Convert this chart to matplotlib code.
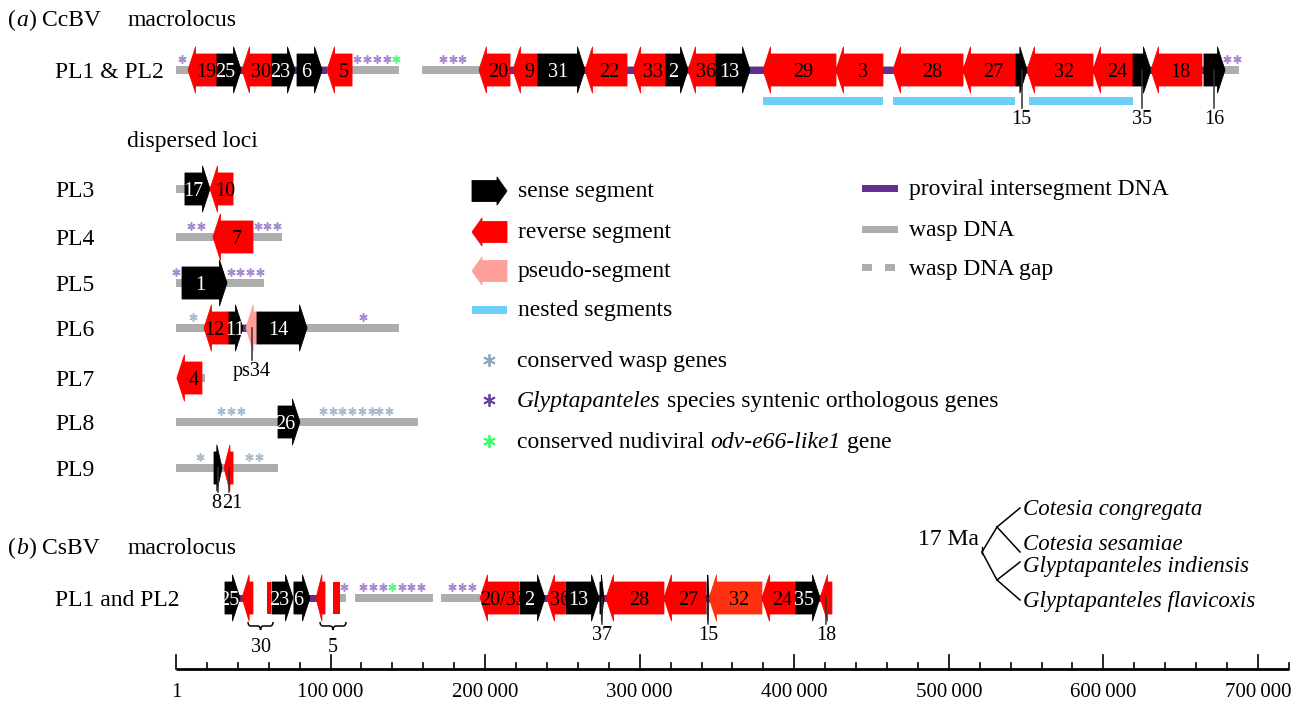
import matplotlib.pyplot as plt
from matplotlib.patches import Polygon, Rectangle, PathPatch
from matplotlib.path import Path

plt.rcParams['font.family'] = ['Liberation Serif', 'DejaVu Serif']

W, H, DPI = 1304, 702, 100
ORIGIN_PX = 176          # pixel column of genome position 1
KB_PER_PX = 0.647        # 100 kb ~ 154.5 px
FS = 17                  # general text
FSG = 14.5               # segment numbers
BL = 0.33 * FS * DPI / 72   # baseline offset to centre capitals
BLG = 0.33 * FSG * DPI / 72

# ---------------- data (positions in kb) ----------------
# (a) CcBV macrolocus PL1 & PL2 : (name, start, end, strand)  strand 1 sense, -1 reverse, 0 pseudo
pl12_genes = [("19", 7.8, 26.5, -1), ("25", 26.5, 42.1, 1), ("30", 42.7, 62.1, -1),
              ("23", 62.1, 77.0, 1), ("6", 78.3, 94.5, 1), ("5", 97.7, 113.9, -1),
              ("20", 196.0, 216.1, -1), ("9", 218.0, 234.2, -1), ("31", 234.2, 264.6, 1),
              ("22", 264.6, 291.8, -1), ("33", 295.7, 317.0, -1), ("2", 317.0, 331.3, 1),
              ("36", 331.3, 349.4, -1), ("13", 349.4, 371.4, 1), ("29", 379.8, 427.0, -1),
              ("3", 427.0, 457.4, -1), ("28", 463.9, 509.2, -1), ("27", 509.2, 543.5, -1),
              ("15", 543.5, 550.6, 1), ("32", 550.6, 593.3, -1), ("24", 593.3, 619.2, -1),
              ("35", 619.2, 630.8, 1), ("18", 630.8, 663.8, -1), ("16", 665.1, 678.7, 1)]
pl12_wasp = [(0, 144.3), (159.2, 687.8)]
pl12_proviral = [(26.0, 98.0), (216.0, 665.0)]
pl12_nested = [(379.8, 457.4), (463.9, 542.8), (551.9, 619.2)]
pl12_outside = ["15", "35", "16"]
pl12_stars_g = [3.9, 117.1, 123.6, 130.0, 136.5, 172.7, 179.2, 185.0, 680.0, 686.5]
pl12_stars_n = [142.3]

# dispersed loci
pl3_genes = [("17", 5.8, 22.0, 1), ("10", 22.0, 36.9, -1)]
pl3_wasp = [(0, 6.0)]
pl4_genes = [("7", 23.9, 49.8, -1)]
pl4_wasp = [(0, 68.6)]
pl4_stars_g = [9.7, 16.2, 53.1, 58.9, 65.3]
pl5_genes = [("1", 3.9, 33.0, 1)]
pl5_wasp = [(0, 57.0)]
pl5_stars_g = [0.0, 35.6, 41.4, 47.9, 54.3]
pl6_genes = [("12", 18.1, 34.3, -1), ("11", 34.3, 43.3, 1), ("ps34", 45.3, 52.4, 0), ("14", 52.4, 84.8, 1)]
pl6_wasp = [(0, 144.3)]
pl6_proviral = [(42.0, 46.0)]
pl6_stars_w = [11.0]
pl6_stars_g = [121.0]
pl7_genes = [("4", 0.6, 16.8, -1)]
pl7_wasp = [(16.8, 18.8)]
pl8_genes = [("26", 66.0, 80.2, 1)]
pl8_wasp = [(0, 156.6)]
pl8_stars_w = [29.1, 35.6, 42.1, 95.1, 101.6, 107.4, 113.9, 120.3, 126.8, 131.3, 137.8]
pl9_genes = [("8", 24.6, 29.8, 1), ("21", 31.1, 36.9, -1)]
pl9_wasp = [(0, 66.0)]
pl9_stars_w = [15.5, 47.2, 53.7]

# (b) CsBV macrolocus PL1 and PL2
cs_genes = [("25", 31.7, 41.4, 1), ("30", 42.7, 49.8, -1), ("23", 62.1, 75.7, 1),
            ("6", 76.3, 86.7, 1), ("5", 90.6, 96.4, -1), ("20/33", 196.7, 221.9, -1),
            ("2", 222.6, 238.7, 1), ("36", 240.0, 251.7, -1), ("13", 252.3, 273.7, 1),
            ("37", 274.3, 276.9, 1), ("28", 278.2, 315.7, -1), ("27", 315.7, 342.9, -1),
            ("15", 343.6, 344.9, 1), ("32", 344.9, 379.1, -1), ("24", 379.1, 401.1, -1),
            ("35", 401.1, 416.7, 1), ("18", 416.7, 424.4, -1)]
cs_fragments = [(58.9, 61.5), (101.6, 106.1)]
cs_braces = [("30", 46.6, 62.8), ("5", 93.2, 110.0)]
cs_wasp = [(106.1, 110.0), (115.8, 166.3), (171.5, 196.7)]
cs_proviral = [(40.0, 44.0), (85.0, 92.0), (221.0, 424.0)]
cs_outside = ["37", "15", "18"]
cs_unlabelled = ["30", "5"]
cs_stars_g = [108.7, 121.0, 127.5, 133.9, 146.2, 152.0, 158.5, 178.6, 185.0, 191.5]
cs_stars_n = [139.8]

axis_major = [0, 100, 200, 300, 400, 500, 600, 700]
axis_labels = ["1", "100\u2009000", "200\u2009000", "300\u2009000", "400\u2009000",
               "500\u2009000", "600\u2009000", "700\u2009000"]

species = ["Cotesia congregata", "Cotesia sesamiae",
           "Glyptapanteles indiensis", "Glyptapanteles flavicoxis"]

# ---------------- styles ----------------
RED = '#ff0000'
BLACK = '#000000'
PINK = '#ff9f9a'
BLUE = '#6dcff6'
PURPLE = '#662d91'
GRAY = '#adadad'
STAR_W = '#a9bccd'
STAR_G = '#a78bcf'
STAR_N = '#4dff80'
FILL = {1: BLACK, -1: RED, 0: PINK}
LABEL_DX = {"12": -5.5, "11": 3, "8": -2, "21": 4}   # small nudges (px) so labels do not collide

fig = plt.figure(figsize=(W / DPI, H / DPI), dpi=DPI)
ax = fig.add_axes([0, 0, 1, 1])
ax.set_xlim(-ORIGIN_PX * KB_PER_PX, (W - ORIGIN_PX) * KB_PER_PX)
ax.set_ylim(H, 0)
ax.axis('off')
ov = fig.add_axes([0, 0, 1, 1])
ov.set_xlim(0, W)
ov.set_ylim(H, 0)
ov.axis('off')
ov.patch.set_alpha(0)

BODY, HEAD, HEADLEN = 16, 23, 7.5


def arrow_poly(axes, x0, x1, y, strand, body, head, hl, color):
    hl = min(hl, 0.65 * (x1 - x0))
    if strand == 1:
        xb = x1 - hl
        pts = [(x0, y - body), (xb, y - body), (xb, y - head), (x1, y),
               (xb, y + head), (xb, y + body), (x0, y + body)]
    else:
        xb = x0 + hl
        pts = [(x1, y - body), (xb, y - body), (xb, y - head), (x0, y),
               (xb, y + head), (xb, y + body), (x1, y + body)]
    axes.add_patch(Polygon(pts, closed=True, facecolor=color, edgecolor=color,
                           lw=0.6, joinstyle='round', zorder=4))
    return xb


def draw_row(y, genes, wasp=(), proviral=(), outside=(), unlabelled=(),
             stars_w=(), stars_g=(), stars_n=(), line_len=22, colors=None):
    for a, b in wasp:
        ax.add_patch(Rectangle((a, y - 4), b - a, 8, color=GRAY, lw=0, zorder=2))
    for a, b in proviral:
        ax.add_patch(Rectangle((a, y - 3.5), b - a, 7, color=PURPLE, lw=0, zorder=3))
    hl = HEADLEN * KB_PER_PX
    for name, a, b, s in genes:
        col = FILL[s]
        if colors and name in colors:
            col = colors[name]
        xb = arrow_poly(ax, a, b, y, s, BODY, HEAD, hl, col)
        dx = LABEL_DX.get(name, 0) * KB_PER_PX
        if name in outside:
            xm = (a + b) / 2
            ax.plot([xm, xm], [y, y + BODY + line_len], color='#333333', lw=1.1, zorder=5)
            ax.text(xm + dx, y + BODY + line_len + 9 + BLG, name, ha='center', va='baseline',
                    fontsize=FSG, zorder=6)
        elif name not in unlabelled:
            xc = (a + xb) / 2 if s == 1 else (xb + b) / 2
            ax.text(xc + dx, y + BLG, name, ha='center', va='baseline', fontsize=FSG,
                    color='white' if s == 1 else 'black', zorder=6)
    for xs, c in ((stars_w, STAR_W), (stars_g, STAR_G), (stars_n, STAR_N)):
        if len(xs):
            ax.plot(xs, [y - 11] * len(xs), ls='none', marker=(6, 2, 0), ms=6,
                    mew=1.1, color=c, zorder=5)


# (a) macrolocus
Y12 = 70
draw_row(Y12, pl12_genes, pl12_wasp, pl12_proviral, pl12_outside,
         stars_g=pl12_stars_g, stars_n=pl12_stars_n, line_len=22)
for a, b in pl12_nested:
    ax.add_patch(Rectangle((a, Y12 + 27), b - a, 7.5, color=BLUE, lw=0, zorder=3))

draw_row(189, pl3_genes, pl3_wasp)
draw_row(237, pl4_genes, pl4_wasp, stars_g=pl4_stars_g)
draw_row(283, pl5_genes, pl5_wasp, stars_g=pl5_stars_g)
draw_row(328, pl6_genes, pl6_wasp, pl6_proviral, outside=["ps34"],
         stars_w=pl6_stars_w, stars_g=pl6_stars_g, line_len=16)
draw_row(378, pl7_genes, pl7_wasp)
draw_row(422, pl8_genes, pl8_wasp, stars_w=pl8_stars_w)
draw_row(468, pl9_genes, pl9_wasp, outside=["8", "21"], stars_w=pl9_stars_w, line_len=8)

# (b) CsBV
YB = 598
draw_row(YB, cs_genes, cs_wasp, cs_proviral, cs_outside, cs_unlabelled,
         stars_g=cs_stars_g, stars_n=cs_stars_n, line_len=10, colors={"32": '#ff3010'})
for a, b in cs_fragments:
    ax.add_patch(Rectangle((a, YB - BODY), b - a, 2 * BODY, color=RED, lw=0, zorder=4))
for name, a, b in cs_braces:
    yt, hb = YB + 24, 8
    q = 3 * KB_PER_PX
    xm = (a + b) / 2
    verts = [(a, yt), (a, yt + hb / 2), (a + q, yt + hb / 2), (xm - q, yt + hb / 2),
             (xm, yt + hb / 2), (xm, yt + hb),
             (xm, yt + hb), (xm, yt + hb / 2), (xm + q, yt + hb / 2), (b - q, yt + hb / 2),
             (b, yt + hb / 2), (b, yt)]
    codes = [Path.MOVETO, Path.CURVE3, Path.CURVE3, Path.LINETO, Path.CURVE3, Path.CURVE3,
             Path.MOVETO, Path.CURVE3, Path.CURVE3, Path.LINETO, Path.CURVE3, Path.CURVE3]
    ax.add_patch(PathPatch(Path(verts, codes), fill=False, lw=1.1, color='black', zorder=5))
    ax.text(xm, 645 + BLG, name, ha='center', va='baseline', fontsize=FSG)

# genome axis
YA = 669
ax.plot([0, 720], [YA, YA], color='black', lw=2, solid_capstyle='butt')
for k in range(0, 721, 20):
    top = YA - 14 if k in axis_major else YA - 6
    ax.plot([k, k], [top, YA], color='black', lw=1.2)
for k, lab in zip(axis_major, axis_labels):
    ax.text(k, 697, lab, ha='center', va='baseline', fontsize=15)

# ---------------- labels, legend, tree (pixel coords) ----------------


def rich(x, y, parts, size=FS):
    r = fig.canvas.get_renderer()
    sp = 0.25 * size * DPI / 72
    for s, it in parts:
        lead = len(s) - len(s.lstrip(' '))
        x += lead * sp
        t = ov.text(x, y, s.strip(' '), fontsize=size, style='italic' if it else 'normal',
                    ha='left', va='baseline')
        x += t.get_window_extent(renderer=r).width
        x += (len(s) - len(s.rstrip(' '))) * sp


rich(8, 18 + BL, [("(", 0), ("a", 1), (")", 0), (" CcBV", 0)])
ov.text(128, 18 + BL, "macrolocus", fontsize=FS, va='baseline')
rich(8, 546 + BL, [("(", 0), ("b", 1), (")", 0), (" CsBV", 0)])
ov.text(128, 546 + BL, "macrolocus", fontsize=FS, va='baseline')
ov.text(127, 139 + BL, "dispersed loci", fontsize=FS, va='baseline')

row_names = ["PL1 & PL2", "PL3", "PL4", "PL5", "PL6", "PL7", "PL8", "PL9", "PL1 and PL2"]
row_y = [70, 189, 237, 283, 328, 378, 422, 468, 598]
for n, yy in zip(row_names, row_y):
    ov.text(55, yy + BL, n, fontsize=FS, va='baseline')

# legend - segments
arrow_poly(ov, 472, 507, 191, 1, 10.5, 14, 10, BLACK)
arrow_poly(ov, 472, 507, 232, -1, 10.5, 14, 10, RED)
arrow_poly(ov, 472, 507, 271, 0, 10.5, 14, 10, PINK)
ov.add_patch(Rectangle((472, 306), 35, 7.5, color=BLUE, lw=0))
for txt, yy in zip(["sense segment", "reverse segment", "pseudo-segment", "nested segments"],
                   [189, 230, 269, 308]):
    ov.text(518, yy + BL, txt, fontsize=FS, va='baseline')

# legend - DNA
ov.add_patch(Rectangle((862, 185), 36, 7, color=PURPLE, lw=0))
ov.add_patch(Rectangle((862, 226), 36, 7, color=GRAY, lw=0))
ov.add_patch(Rectangle((862, 264), 10, 7, color=GRAY, lw=0))
ov.add_patch(Rectangle((885, 264), 10, 7, color=GRAY, lw=0))
for txt, yy in zip(["proviral intersegment DNA", "wasp DNA", "wasp DNA gap"], [187, 228, 267]):
    ov.text(909, yy + BL, txt, fontsize=FS, va='baseline')

# legend - stars
for c, yy in zip(['#8fa6ba', '#6b3fa0', '#33ff66'], [360, 400, 441]):
    ov.plot([489], [yy], ls='none', marker=(6, 2, 0), ms=9, mew=1.3, color=c)
rich(517, 359 + BL, [("conserved wasp genes", 0)])
rich(517, 399 + BL, [("Glyptapanteles", 1), (" species syntenic orthologous genes", 0)])
rich(517, 440 + BL, [("conserved nudiviral ", 0), ("odv-e66-like1", 1), (" gene", 0)])

# tree
tree_segs = [((982, 552), (997, 527)), ((997, 527), (1020, 508)), ((997, 527), (1020, 552)),
             ((982, 552), (997, 580)), ((997, 580), (1020, 562)), ((997, 580), (1020, 600))]
for p, q in tree_segs:
    ov.plot([p[0], q[0]], [p[1], q[1]], color='black', lw=1.1)
ov.plot([982, 982], [547, 554], color='black', lw=1)
ov.text(918, 537 + BL, "17 Ma", fontsize=FS, va='baseline')
FSP = 16.5
for sp_name, yy in zip(species, [508, 543, 565, 600]):
    ov.text(1023, yy + 0.3 * FSP * DPI / 72, sp_name, fontsize=FSP, style='italic',
            va='baseline')

fig.savefig("out.png", dpi=DPI)
